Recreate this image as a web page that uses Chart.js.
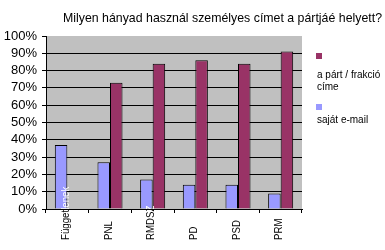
<!DOCTYPE html>
<html>
<head>
<meta charset="utf-8">
<script src="https://cdn.jsdelivr.net/npm/chart.js@4.4.1/dist/chart.umd.min.js"></script>
<style>
    body { margin: 0; background: #ffffff; }
    #wrap { width: 385px; height: 250px; }
</style>
</head>
<body>
<div id="wrap"><canvas id="bar-chart" width="385" height="250"></canvas></div>
<script>

// adatok
const titleText = "Milyen hányad használ személyes címet a pártjáé helyett?";
const categories = ["Függetlenek", "PNL", "RMDSZ", "PD", "PSD", "PRM"];
const emailValues = [37, 27, 17, 14, 14, 9];
const partyValues = [null, 73, 84, 86, 84, 91];
const emailLabel = "saját e-mail";
const partyLabel = ["a párt / frakció", "címe"];

const partyColor = "#993366";
const emailColor = "#9999ff";

// háttér + cím + legenda + x feliratok
const extraDraw = {
    id: "extraDraw",
    beforeDraw: function (chart) {
        const ctx = chart.ctx;
        const a = chart.chartArea;
        ctx.save();
        ctx.fillStyle = "#c0c0c0";
        ctx.fillRect(a.left, a.top, a.right - a.left, a.bottom - a.top);
        ctx.restore();
    },
    afterDraw: function (chart) {
        const ctx = chart.ctx;
        const a = chart.chartArea;
        const xs = chart.scales.x;

        // cím (keskeny betű)
        ctx.save();
        ctx.font = "13px 'Liberation Sans', Arial, sans-serif";
        ctx.fillStyle = "#000000";
        ctx.textBaseline = "alphabetic";
        let w = ctx.measureText(titleText).width;
        ctx.translate(63, 21.5);
        ctx.scale(319 / w, 1);
        ctx.fillText(titleText, 0, 0);
        ctx.restore();

        // legenda
        ctx.save();
        ctx.font = "10px 'Liberation Sans', Arial, sans-serif";
        ctx.fillStyle = partyColor;
        ctx.fillRect(316, 53, 6, 6);
        ctx.fillStyle = emailColor;
        ctx.fillRect(316, 104, 6, 6);
        ctx.fillStyle = "#000000";
        ctx.fillText(partyLabel[0], 317, 77.5);
        ctx.fillText(partyLabel[1], 317, 90);
        ctx.fillText(emailLabel, 317, 122.5);
        ctx.restore();

        // x tengely feliratok, felfelé olvasva
        ctx.save();
        ctx.font = "11px 'Liberation Sans', Arial, sans-serif";
        ctx.textAlign = "left";
        ctx.textBaseline = "middle";
        for (let i = 0; i < categories.length; i++) {
            let cx = xs.getPixelForValue(i) - 1.5;
            // tengely alatt fekete, a rajzterületbe lógó rész fehér
            let parts = [[a.bottom, 250 - a.bottom, "#000000"], [0, a.bottom, "#ffffff"]];
            for (let p = 0; p < parts.length; p++) {
                ctx.save();
                ctx.beginPath();
                ctx.rect(0, parts[p][0], 385, parts[p][1]);
                ctx.clip();
                ctx.translate(cx, 240);
                ctx.rotate(-Math.PI / 2);
                ctx.scale(0.88, 1);
                ctx.fillStyle = parts[p][2];
                ctx.fillText(categories[i], 0, 0);
                ctx.restore();
            }
        }
        ctx.restore();
    }
};

let chart_bar = new Chart(document.getElementById("bar-chart"), {
    type: "bar",
    data: {
        labels: categories,
        datasets: [
            {
                label: emailLabel,
                data: emailValues,
                backgroundColor: emailColor,
                borderColor: "#000000",
                borderWidth: 1,
                categoryPercentage: 0.587,
                barPercentage: 1
            },
            {
                label: partyLabel.join(" "),
                data: partyValues,
                backgroundColor: partyColor,
                borderColor: "#000000",
                borderWidth: 1,
                categoryPercentage: 0.587,
                barPercentage: 1
            }
        ]
    },
    options: {
        responsive: false,
        animation: false,
        layout: {
            padding: { top: 36, right: 83, left: 0, bottom: 0 }
        },
        plugins: {
            legend: { display: false },
            title: { display: false },
            tooltip: { enabled: false }
        },
        scales: {
            x: {
                offset: true,
                afterFit: function (scale) { scale.height = 41; },
                border: { color: "#000000", width: 1 },
                grid: {
                    offset: true,
                    drawOnChartArea: false,
                    tickLength: 4,
                    color: "#000000"
                },
                ticks: { display: false }
            },
            y: {
                min: 0,
                max: 100,
                afterFit: function (scale) { scale.width = 46; },
                border: { color: "#000000", width: 1 },
                grid: {
                    tickLength: 4,
                    tickColor: "#000000",
                    color: function (c) {
                        return c.tick.value == 100 ? "rgba(0,0,0,0)" : "#000000";
                    }
                },
                ticks: {
                    stepSize: 10,
                    autoSkip: false,
                    padding: 5,
                    color: "#000000",
                    font: { family: "'Liberation Sans', Arial, sans-serif", size: 13 },
                    callback: function (v) { return v + "%"; }
                }
            }
        }
    },
    plugins: [extraDraw]
});

</script>
</body>
</html>
